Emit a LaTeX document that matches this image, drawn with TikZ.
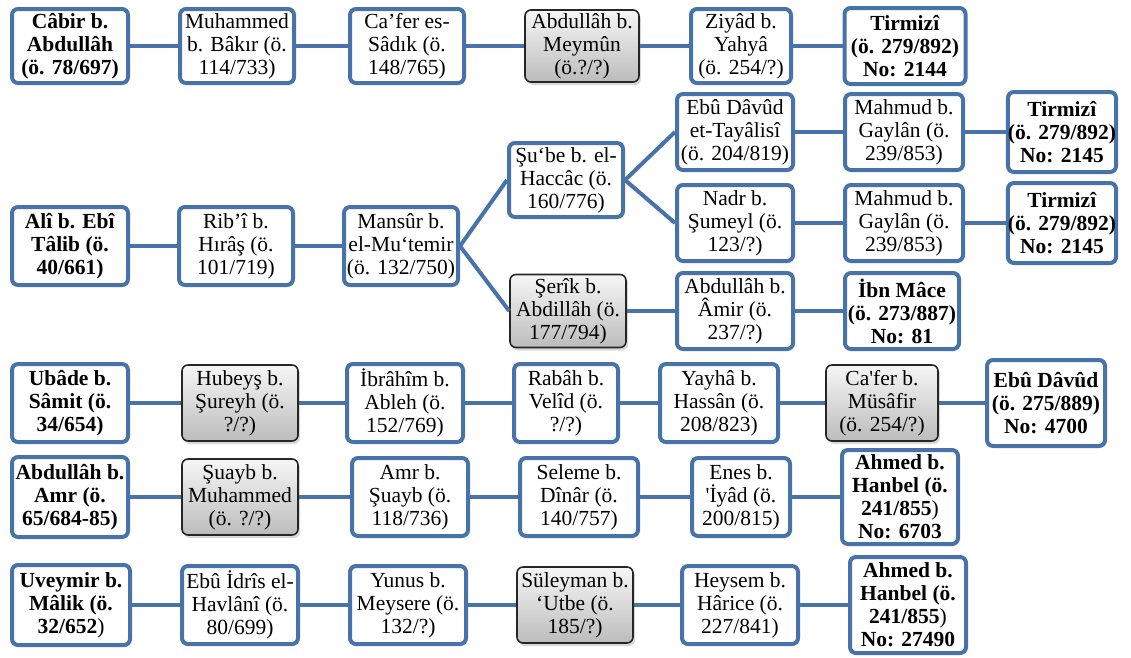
\documentclass[tikz,border=0pt]{standalone}
\usepackage{fontspec}
\setmainfont{Liberation Serif}[Ligatures=TeXOff]
\usetikzlibrary{shadows}
\definecolor{bl}{RGB}{72,114,170}
\definecolor{gtop}{RGB}{246,246,246}
\definecolor{gbot}{RGB}{188,188,188}
\tikzset{
  base/.style 2 args={rounded corners=6pt, align=center, inner sep=0pt,
     minimum width=#1pt-4pt, minimum height=#2pt-4pt,
     font=\fontsize{21.5}{23}\selectfont},
  wbox/.style 2 args={base={#1}{#2}, draw=bl, line width=4pt, fill=white},
  gbox/.style 2 args={base={#1}{#2}, draw=black!85, line width=1.6pt,
     top color=gtop, bottom color=gbot,
     drop shadow={opacity=0.3, shadow xshift=2pt, shadow yshift=-3pt}},
  link/.style={draw=bl, line width=4pt}
}
\begin{document}
\begin{tikzpicture}[x=1pt,y=-1pt]
\useasboundingbox (0,0) rectangle (1131,657);
% Row 1
\node[wbox={120}{78}] (a1) at (70,46) {\textbf{Câbir b.}\\\textbf{Abdullâh}\\\textbf{(ö. 78/697)}};
\node[wbox={118}{78}] (a2) at (237,46) {Muhammed\\b. Bâkır (ö.\\114/733)};
\node[wbox={118}{78}] (a3) at (407,46) {Ca’fer es-\\Sâdık (ö.\\148/765)};
\node[gbox={118}{76}] (a4) at (582,46) {Abdullâh b.\\Meymûn\\(ö.?/?)};
\node[wbox={104}{78}] (a5) at (741,46) {Ziyâd b.\\Yahyâ\\(ö. 254/?)};
\node[wbox={125}{80}] (a6) at (905,46) {\textbf{Tirmizî}\\\textbf{(ö. 279/892)}\\\textbf{No: 2144}};
% Row 2
\node[wbox={120}{82}] (b1) at (70,246) {\textbf{Alî b. Ebî}\\\textbf{Tâlib (ö.}\\\textbf{40/661)}};
\node[wbox={118}{82}] (b2) at (236,246) {Rib’î b.\\Hırâş (ö.\\101/719)};
\node[wbox={118}{82}] (b3) at (401,246) {Mansûr b.\\el-Mu‘temir\\(ö. 132/750)};
\node[wbox={118}{78}] (b4) at (566,180) {Şu‘be b. el-\\Haccâc (ö.\\160/776)};
\node[gbox={120}{77}] (b5) at (568,311) {Şerîk b.\\Abdillâh (ö.\\177/794)};
\node[wbox={120}{80}] (b6) at (735,132) {Ebû Dâvûd\\et-Tayâlisî\\(ö. 204/819)};
\node[wbox={120}{80}] (b7) at (735,223) {Nadr b.\\Şumeyl (ö.\\123/?)};
\node[wbox={120}{80}] (b8) at (735,311) {Abdullâh b.\\Âmir (ö.\\237/?)};
\node[wbox={122}{80}] (b9) at (904,132) {Mahmud b.\\Gaylân (ö.\\239/853)};
\node[wbox={122}{80}] (b10) at (904,223) {Mahmud b.\\Gaylân (ö.\\239/853)};
\node[wbox={118}{80}] (b11) at (902,311) {\textbf{İbn Mâce}\\\textbf{(ö. 273/887)}\\\textbf{No: 81}};
\node[wbox={112}{84}] (b12) at (1062,132) {\textbf{Tirmizî}\\\textbf{(ö. 279/892)}\\\textbf{No: 2145}};
\node[wbox={112}{84}] (b13) at (1062,223) {\textbf{Tirmizî}\\\textbf{(ö. 279/892)}\\\textbf{No: 2145}};
% Row 3
\node[wbox={120}{82}] (c1) at (70,403) {\textbf{Ubâde b.}\\\textbf{Sâmit (ö.}\\\textbf{34/654)}};
\node[gbox={120}{80}] (c2) at (240,403) {Hubeyş b.\\Şureyh (ö.\\?/?)};
\node[wbox={120}{82}] (c3) at (405,403) {İbrâhîm b.\\Ableh (ö.\\152/769)};
\node[wbox={108}{82}] (c4) at (566,403) {Rabâh b.\\Velîd (ö.\\?/?)};
\node[wbox={122}{82}] (c5) at (719,403) {Yayhâ b.\\Hassân (ö.\\208/823)};
\node[gbox={116}{80}] (c6) at (882,403) {Ca'fer b.\\Müsâfir\\(ö. 254/?)};
\node[wbox={122}{90}] (c7) at (1046,403) {\textbf{Ebû Dâvûd}\\\textbf{(ö. 275/889)}\\\textbf{No: 4700}};
% Row 4
\node[wbox={120}{84}] (d1) at (70,497) {\textbf{Abdullâh b.}\\\textbf{Amr (ö.}\\\textbf{65/684-85)}};
\node[gbox={120}{80}] (d2) at (240,497) {Şuayb b.\\Muhammed\\(ö. ?/?)};
\node[wbox={120}{82}] (d3) at (410,497) {Amr b.\\Şuayb (ö.\\118/736)};
\node[wbox={122}{82}] (d4) at (579,497) {Seleme b.\\Dînâr (ö.\\140/757)};
\node[wbox={102}{82}] (d5) at (741,497) {Enes b.\\'İyâd (ö.\\200/815)};
\node[wbox={120}{98}] (d6) at (900,497) {\textbf{Ahmed b.}\\\textbf{Hanbel (ö.}\\\textbf{241/855}{\mdseries)}\\\textbf{No: 6703}};
% Row 5
\node[wbox={122}{84}] (e1) at (71,605) {\textbf{Uveymir b.}\\\textbf{Mâlik (ö.}\\\textbf{32/652}{\mdseries)}};
\node[wbox={120}{82}] (e2) at (240,605) {Ebû İdrîs el-\\Havlânî (ö.\\80/699)};
\node[wbox={120}{82}] (e3) at (408,605) {Yunus b.\\Meysere (ö.\\132/?)};
\node[gbox={120}{80}] (e4) at (575,605) {Süleyman b.\\‘Utbe (ö.\\185/?)};
\node[wbox={120}{82}] (e5) at (740,605) {Heysem b.\\Hârice (ö.\\227/841)};
\node[wbox={120}{100}] (e6) at (908,605) {\textbf{Ahmed b.}\\\textbf{Hanbel (ö.}\\\textbf{241/855}{\mdseries)}\\\textbf{No: 27490}};
% connectors
\draw[link] (a1.east) -- (a2.west);
\draw[link] (a2.east) -- (a3.west);
\draw[link] (a3.east) -- (a4.west);
\draw[link] (a4.east) -- (a5.west);
\draw[link] (a5.east) -- (a6.west);
\draw[link] (b1.east) -- (b2.west);
\draw[link] (b2.east) -- (b3.west);
\draw[link] (b3.east) -- (b4.west);
\draw[link] (b3.east) -- (b5.west);
\draw[link] (b4.east) -- (b6.west);
\draw[link] (b4.east) -- (b7.west);
\draw[link] (b5.east) -- (b8.west);
\draw[link] (b6.east) -- (b9.west);
\draw[link] (b7.east) -- (b10.west);
\draw[link] (b8.east) -- (b11.west);
\draw[link] (b9.east) -- (b12.west);
\draw[link] (b10.east) -- (b13.west);
\draw[link] (c1.east) -- (c2.west);
\draw[link] (c2.east) -- (c3.west);
\draw[link] (c3.east) -- (c4.west);
\draw[link] (c4.east) -- (c5.west);
\draw[link] (c5.east) -- (c6.west);
\draw[link] (c6.east) -- (c7.west);
\draw[link] (d1.east) -- (d2.west);
\draw[link] (d2.east) -- (d3.west);
\draw[link] (d3.east) -- (d4.west);
\draw[link] (d4.east) -- (d5.west);
\draw[link] (d5.east) -- (d6.west);
\draw[link] (e1.east) -- (e2.west);
\draw[link] (e2.east) -- (e3.west);
\draw[link] (e3.east) -- (e4.west);
\draw[link] (e4.east) -- (e5.west);
\draw[link] (e5.east) -- (e6.west);
\end{tikzpicture}
\end{document}
